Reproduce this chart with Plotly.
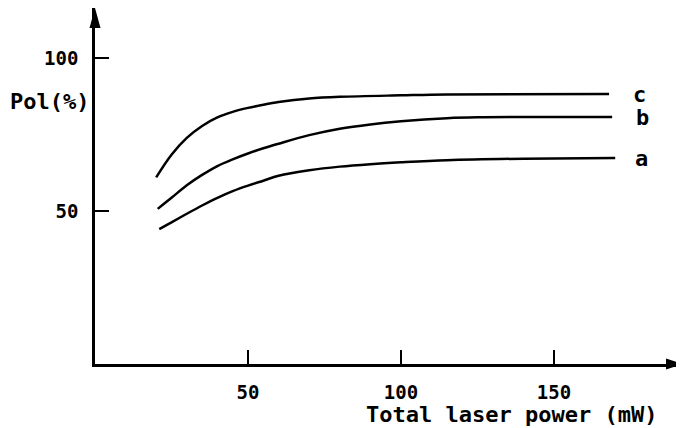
import plotly.graph_objects as go

# Data
x_a = [21, 25, 30, 35, 40, 45, 50, 55, 60, 70, 80, 90, 100, 115, 140, 170]
y_a = [44.1, 46.3, 49.1, 51.8, 54.3, 56.5, 58.3, 59.9, 61.5, 63.3, 64.5, 65.3, 65.9, 66.6, 67.1, 67.3]

x_b = [20.5, 25, 30, 35, 40, 45, 50, 55, 60, 70, 80, 90, 100, 115, 125, 169]
y_b = [50.7, 54.3, 58.4, 61.8, 64.7, 66.9, 68.8, 70.5, 72.0, 74.8, 76.9, 78.3, 79.3, 80.3, 80.6, 80.7]

x_c = [20, 25, 30, 35, 40, 45, 50, 55, 60, 65, 70, 80, 100, 115, 168]
y_c = [61.0, 68.4, 73.9, 77.8, 80.6, 82.4, 83.7, 84.7, 85.6, 86.3, 86.8, 87.3, 87.8, 88.1, 88.2]

series_names = ["a", "b", "c"]
x_ticks = [50, 100, 150]
y_ticks = [50, 100]
x_title = "Total laser power (mW)"
y_title = "Pol(%)"

FONT = "DejaVu Sans Mono"
WEIGHT = "bold"
OFF = 8                      # page body margin
SW, SH = 684, 428            # screen size
W, H = SW - OFF, SH - OFF    # figure size
AX_X, AX_Y = 95, 364         # screen position of the axes origin
PX = 3.06                    # pixels per data unit
TOP = OFF                    # screen y of the top of the plot area
RIGHT = 683                  # screen x of the right end of the x axis
X_MAX = (RIGHT - AX_X) / PX
Y_MAX = (AX_Y - TOP) / PX

X0P = (AX_X - OFF) / W       # paper x of the y axis
X1P = (RIGHT - OFF) / W      # paper x of the x axis end
Y0P = (SH - AX_Y) / H        # paper y of the x axis

fig = go.Figure()
for xs, ys, name, shift in [(x_a, y_a, "a", 18), (x_b, y_b, "b", 22), (x_c, y_c, "c", 22)]:
    fig.add_trace(go.Scatter(x=xs, y=ys, mode="lines", name=name,
                             line=dict(color="black", width=2.5, shape="spline", smoothing=1.0),
                             showlegend=False, hoverinfo="skip"))
    fig.add_annotation(x=xs[-1], y=ys[-1], text=name, showarrow=False,
                       xanchor="left", yanchor="middle", xshift=shift,
                       font=dict(family=FONT, size=22, color="black", weight=WEIGHT))

axis_common = dict(showgrid=False, zeroline=False, showline=True, linecolor="black",
                   linewidth=2.7, ticks="inside", tickcolor="black", tickwidth=2,
                   ticklen=14, tickfont=dict(family=FONT, size=19, color="black", weight=WEIGHT))

fig.update_xaxes(range=[0, X_MAX], domain=[X0P, X1P],
                 tickvals=x_ticks, ticklabelstandoff=9, **axis_common)
fig.update_yaxes(range=[0, Y_MAX], domain=[Y0P, 1], tickvals=y_ticks,
                 ticklabelstandoff=10, **axis_common)

# arrowheads on the axes (paper-anchored so they are not clipped)
fig.add_shape(type="path", xref="paper", yref="paper", xsizemode="pixel", ysizemode="pixel",
              xanchor=X0P, yanchor=1, path="M -5.5,-20 L 5.5,-20 L 0,0 Z",
              fillcolor="black", line=dict(width=0), layer="above")
fig.add_shape(type="path", xref="paper", yref="paper", xsizemode="pixel", ysizemode="pixel",
              xanchor=X1P, yanchor=Y0P, path="M -17,-5.5 L -17,5.5 L 0,0 Z",
              fillcolor="black", line=dict(width=0), layer="above")

fig.add_annotation(x=(511 - OFF) / W, y=1 - (414 - OFF) / H, xref="paper", yref="paper",
                   text=x_title, showarrow=False, xanchor="center", yanchor="middle",
                   font=dict(family=FONT, size=22, color="black", weight=WEIGHT))
fig.add_annotation(x=(49 - OFF) / W, y=1 - (101 - OFF) / H, xref="paper", yref="paper",
                   text=y_title, showarrow=False, xanchor="center", yanchor="middle",
                   font=dict(family=FONT, size=22, color="black", weight=WEIGHT))

fig.update_layout(width=W, height=H, margin=dict(l=0, r=0, t=0, b=0),
                  paper_bgcolor="white", plot_bgcolor="white")

fig.write_html("out.html")
